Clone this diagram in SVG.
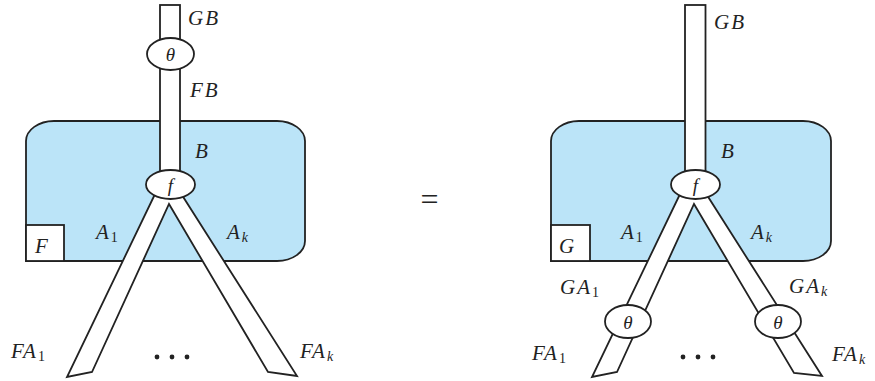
<svg xmlns="http://www.w3.org/2000/svg" width="875" height="381" viewBox="0 0 875 381">
<style>
.region{fill:#bbe4f8;stroke:#222;stroke-width:1.8}
.wire{fill:#fff;stroke:#222;stroke-width:1.8;stroke-linejoin:miter}
.node{fill:#fff;stroke:#222;stroke-width:1.8}
.box{fill:#fff;stroke:#222;stroke-width:1.8}
.lbl{font-family:"Liberation Serif","Times New Roman","DejaVu Serif",serif;font-style:italic;font-size:21px;fill:#222;letter-spacing:2px}
.sub{font-size:14px;letter-spacing:0}
.up{font-style:normal}
.mid{text-anchor:middle;letter-spacing:0}
.dot{fill:#222}
</style>
<g id="left">
  <g id="L-region">
    <path class="region" d="M26,261 L26,141 A28,20 0 0 1 54,121 L277,121 A28,20 0 0 1 305,141 L305,241 A28,20 0 0 1 277,261 Z"/>
    <rect class="box" x="26" y="225" width="38" height="36"/>
    <text class="lbl" x="35" y="253">F</text>
  </g>
  <g id="L-wires">
    <rect class="wire" x="160" y="5" width="20" height="175"/>
    <path class="wire" d="M156,192 L180,192 L297,376 L268,372 L169,204 L92,372 L67,377 Z"/>
  </g>
  <g id="L-theta">
    <ellipse class="node" cx="170.5" cy="54" rx="23.5" ry="16"/>
    <text class="lbl mid" x="170.5" y="61" style="font-size:19px">θ</text>
  </g>
  <g id="L-f">
    <ellipse class="node" cx="170.5" cy="184.5" rx="24.5" ry="14.5"/>
    <text class="lbl mid" x="170.5" y="191.5" style="font-size:19px">f</text>
  </g>
  <g id="L-labels">
    <text class="lbl" x="188" y="25">GB</text>
    <text class="lbl" x="190" y="97">FB</text>
    <text class="lbl" x="195" y="158">B</text>
    <text class="lbl" x="96" y="239">A<tspan class="sub up" dy="3">1</tspan></text>
    <text class="lbl" x="227" y="239">A<tspan class="sub" dy="3">k</tspan></text>
    <text class="lbl" x="11" y="358">FA<tspan class="sub up" dy="3">1</tspan></text>
    <text class="lbl" x="300" y="358">FA<tspan class="sub" dy="3">k</tspan></text>
  </g>
  <g id="L-dots">
    <circle class="dot" cx="157" cy="357" r="2.4"/>
    <circle class="dot" cx="172" cy="357" r="2.4"/>
    <circle class="dot" cx="187" cy="357" r="2.4"/>
  </g>
</g>
<g id="equals">
  <text x="429.5" y="210" font-family="Liberation Serif,DejaVu Serif,serif" font-size="32" text-anchor="middle" fill="#222">=</text>
</g>
<g id="right">
  <g id="R-region">
    <path class="region" d="M551,261 L551,141 A28,20 0 0 1 579,121 L803,121 A28,20 0 0 1 831,141 L831,241 A28,20 0 0 1 803,261 Z"/>
    <rect class="box" x="551" y="225" width="39" height="36"/>
    <text class="lbl" x="559" y="253">G</text>
  </g>
  <g id="R-wires">
    <rect class="wire" x="685" y="5" width="20.5" height="175"/>
    <path class="wire" d="M681,192 L705,192 L822,376 L794,373 L694,204 L617,372 L592,377 Z"/>
  </g>
  <g id="R-f">
    <ellipse class="node" cx="695.5" cy="184.5" rx="24.5" ry="14.5"/>
    <text class="lbl mid" x="695.5" y="191.5" style="font-size:19px">f</text>
  </g>
  <g id="R-theta1">
    <ellipse class="node" cx="628" cy="321.5" rx="23" ry="16.5"/>
    <text class="lbl mid" x="628" y="328.5" style="font-size:19px">θ</text>
  </g>
  <g id="R-thetak">
    <ellipse class="node" cx="778" cy="321.5" rx="23" ry="16.5"/>
    <text class="lbl mid" x="778" y="328.5" style="font-size:19px">θ</text>
  </g>
  <g id="R-labels">
    <text class="lbl" x="714" y="29">GB</text>
    <text class="lbl" x="721" y="158">B</text>
    <text class="lbl" x="621" y="239">A<tspan class="sub up" dy="3">1</tspan></text>
    <text class="lbl" x="751" y="239">A<tspan class="sub" dy="3">k</tspan></text>
    <text class="lbl" x="560" y="294">GA<tspan class="sub up" dy="3">1</tspan></text>
    <text class="lbl" x="789" y="293">GA<tspan class="sub" dy="3">k</tspan></text>
    <text class="lbl" x="532" y="360">FA<tspan class="sub up" dy="3">1</tspan></text>
    <text class="lbl" x="832" y="361">FA<tspan class="sub" dy="3">k</tspan></text>
  </g>
  <g id="R-dots">
    <circle class="dot" cx="683" cy="357" r="2.4"/>
    <circle class="dot" cx="698" cy="357" r="2.4"/>
    <circle class="dot" cx="713" cy="357" r="2.4"/>
  </g>
</g>
</svg>
